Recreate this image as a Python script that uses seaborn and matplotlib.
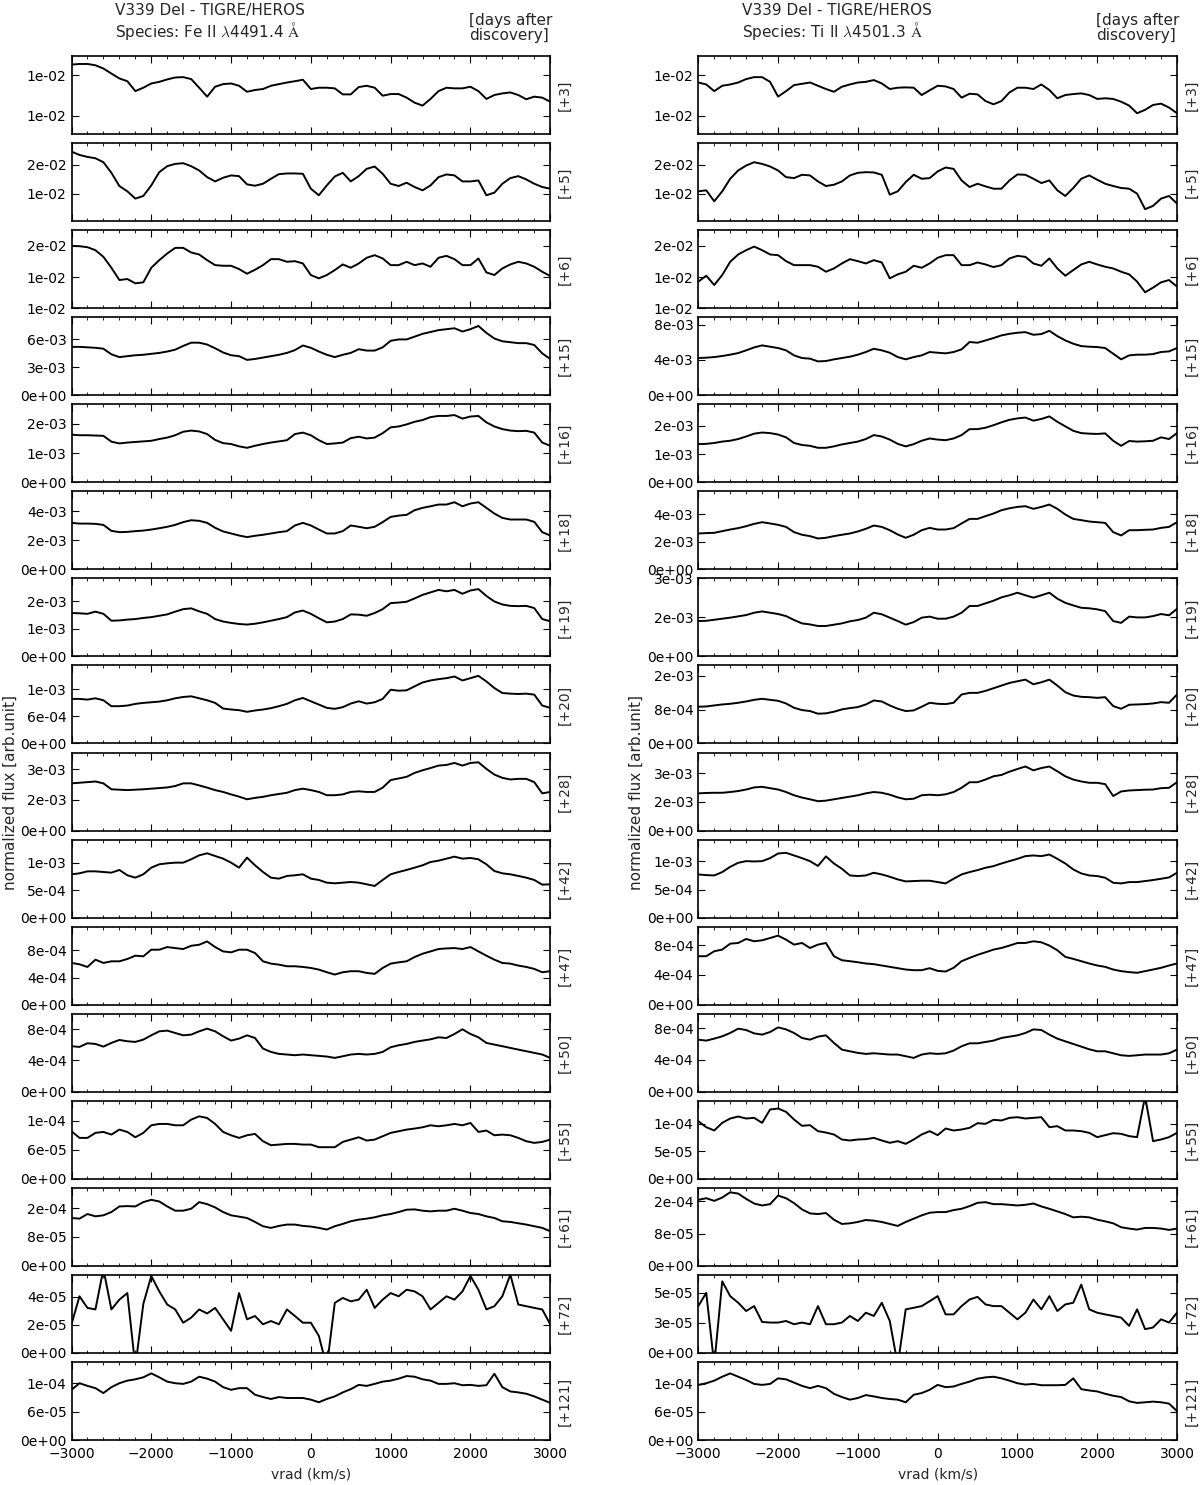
import numpy as np
import matplotlib
matplotlib.use('Agg')
import matplotlib.pyplot as plt
import seaborn as sns
from matplotlib.ticker import MultipleLocator, FormatStrFormatter, NullLocator

sns.set_style('ticks')
plt.rcParams['font.family'] = ['DejaVu Sans']
plt.rcParams['font.size'] = 10
plt.rcParams['mathtext.fontset'] = 'cm'
plt.rcParams['xtick.direction'] = 'in'
plt.rcParams['ytick.direction'] = 'in'
plt.rcParams['xtick.top'] = True
plt.rcParams['ytick.right'] = True
plt.rcParams['xtick.major.size'] = 5
plt.rcParams['ytick.major.size'] = 5
plt.rcParams['xtick.minor.size'] = 2.5
plt.rcParams['axes.linewidth'] = 1.2
plt.rcParams['axes.edgecolor'] = 'black'
plt.rcParams['xtick.color'] = 'black'
plt.rcParams['ytick.color'] = 'black'

# velocity grid (km/s), one sample every 100 km/s
vrad = np.arange(-3000, 3001, 100)

days = [3, 5, 6, 15, 16, 18, 19, 20, 28, 42, 47, 50, 55, 61, 72, 121]
# each series is given in units of `unit` below
unit = [1e-3, 1e-3, 1e-3, 1e-3, 1e-3, 1e-3, 1e-3, 1e-4,
        1e-3, 1e-4, 1e-4, 1e-4, 1e-5, 1e-5, 1e-5, 1e-5]

# ---- Fe II 4491.4 ----
fe_d03 = [13.15, 13.19, 13.19, 13.11, 12.91, 12.60, 12.30, 12.13, 11.52, 11.73,
          11.99, 12.09, 12.24, 12.36, 12.38, 12.26, 11.73, 11.18, 11.79, 11.95,
          11.99, 11.85, 11.48, 11.59, 11.65, 11.85, 11.95, 12.05, 12.13, 12.22,
          11.65, 11.73, 11.73, 11.69, 11.32, 11.32, 11.77, 11.85, 11.73, 11.24,
          11.34, 11.34, 11.12, 10.81, 10.63, 11.04, 11.52, 11.73, 11.69, 11.69,
          11.79, 11.52, 11.04, 11.28, 11.38, 11.44, 11.28, 11.02, 11.18, 11.12, 10.87]
fe_d05 = [22.22, 21.65, 21.31, 21.08, 20.40, 18.58, 16.31, 15.40, 14.15, 14.60,
          16.42, 18.69, 19.72, 20.11, 20.23, 19.72, 18.98, 17.84, 17.10, 17.73,
          18.13, 18.01, 16.59, 16.36, 16.70, 17.56, 18.35, 18.47, 18.47, 18.41,
          15.85, 14.72, 16.42, 17.95, 18.58, 17.10, 18.01, 19.26, 19.66, 18.41,
          16.70, 16.31, 16.88, 16.14, 15.57, 16.42, 17.84, 18.30, 18.13, 17.10,
          17.10, 17.27, 14.72, 15.17, 16.70, 17.67, 18.01, 17.44, 16.70, 16.14, 15.85]
fe_d06 = [20.00, 19.95, 19.79, 19.31, 18.24, 16.49, 14.52, 14.68, 13.99, 14.15,
          16.49, 17.71, 18.78, 19.68, 19.68, 18.94, 18.62, 17.71, 16.91, 16.81,
          16.81, 16.28, 15.53, 16.17, 16.91, 17.87, 17.87, 17.45, 17.55, 17.18,
          15.32, 14.79, 15.32, 16.12, 17.02, 16.49, 17.18, 18.09, 18.51, 17.98,
          16.91, 16.91, 17.45, 16.91, 17.18, 16.65, 18.09, 18.40, 17.87, 16.91,
          16.91, 17.98, 15.74, 15.32, 16.38, 17.02, 17.45, 17.18, 16.65, 15.85, 15.16]
fe_d15 = [5.2, 5.2, 5.15, 5.1, 5.0, 4.4, 4.1, 4.2, 4.3, 4.35,
          4.45, 4.55, 4.7, 4.9, 5.3, 5.65, 5.65, 5.45, 5.05, 4.6,
          4.3, 4.2, 3.8, 3.9, 4.05, 4.2, 4.35, 4.55, 4.85, 5.35,
          5.1, 4.7, 4.35, 4.1, 4.35, 4.55, 4.95, 4.8, 4.8, 5.15,
          5.85, 6.0, 6.0, 6.3, 6.6, 6.8, 7.0, 7.1, 7.2, 6.85,
          7.1, 7.45, 6.7, 6.1, 5.8, 5.7, 5.6, 5.6, 5.4, 4.5, 3.9]
fe_d16 = [1.63, 1.61, 1.61, 1.60, 1.59, 1.39, 1.33, 1.36, 1.38, 1.40,
          1.42, 1.48, 1.53, 1.61, 1.73, 1.77, 1.74, 1.65, 1.45, 1.34,
          1.31, 1.23, 1.18, 1.25, 1.31, 1.36, 1.40, 1.44, 1.65, 1.70,
          1.61, 1.44, 1.31, 1.33, 1.36, 1.51, 1.56, 1.50, 1.53, 1.68,
          1.88, 1.91, 1.98, 2.07, 2.13, 2.23, 2.27, 2.27, 2.30, 2.18,
          2.25, 2.27, 2.05, 1.91, 1.82, 1.77, 1.75, 1.76, 1.70, 1.36, 1.25]
fe_d18 = [3.20, 3.15, 3.15, 3.13, 3.06, 2.65, 2.56, 2.58, 2.63, 2.67,
          2.74, 2.83, 2.93, 3.06, 3.25, 3.38, 3.34, 3.20, 2.86, 2.61,
          2.47, 2.33, 2.22, 2.31, 2.38, 2.47, 2.56, 2.63, 3.02, 3.20,
          3.02, 2.74, 2.47, 2.47, 2.63, 3.02, 2.93, 2.83, 2.93, 3.25,
          3.61, 3.70, 3.75, 4.07, 4.23, 4.34, 4.46, 4.46, 4.62, 4.34,
          4.53, 4.62, 4.23, 3.84, 3.54, 3.43, 3.43, 3.43, 3.27, 2.56, 2.33]
fe_d19 = [1.58, 1.57, 1.55, 1.63, 1.55, 1.30, 1.31, 1.34, 1.36, 1.40,
          1.43, 1.48, 1.53, 1.63, 1.72, 1.75, 1.64, 1.55, 1.36, 1.27,
          1.22, 1.18, 1.16, 1.19, 1.24, 1.30, 1.36, 1.43, 1.60, 1.67,
          1.55, 1.39, 1.24, 1.27, 1.36, 1.53, 1.52, 1.48, 1.58, 1.72,
          1.94, 1.96, 1.99, 2.11, 2.24, 2.33, 2.42, 2.37, 2.42, 2.28,
          2.40, 2.45, 2.20, 2.00, 1.89, 1.84, 1.83, 1.84, 1.76, 1.36, 1.28]
fe_d20 = [9.88, 9.88, 9.73, 10.02, 9.58, 8.27, 8.27, 8.41, 8.78, 9.00,
          9.14, 9.29, 9.58, 10.02, 10.31, 10.46, 10.02, 9.58, 9.00, 7.75,
          7.53, 7.39, 7.02, 7.32, 7.53, 7.83, 8.27, 8.78, 9.58, 10.10,
          9.36, 8.63, 7.90, 7.68, 8.05, 8.85, 9.36, 8.85, 9.14, 9.88,
          11.92, 11.70, 11.78, 12.66, 13.53, 13.97, 14.26, 14.48, 14.85, 13.97,
          14.48, 15.00, 13.75, 12.29, 11.19, 11.05, 10.97, 11.05, 10.83, 8.41, 7.90]
fe_d28 = [2.31, 2.34, 2.37, 2.40, 2.31, 2.02, 2.00, 1.98, 2.00, 2.02,
          2.05, 2.08, 2.11, 2.18, 2.31, 2.31, 2.21, 2.10, 1.98, 1.89,
          1.77, 1.66, 1.53, 1.60, 1.65, 1.73, 1.79, 1.85, 1.98, 2.05,
          1.98, 1.89, 1.73, 1.73, 1.77, 1.89, 1.92, 1.89, 1.89, 2.10,
          2.47, 2.55, 2.63, 2.82, 2.95, 3.06, 3.18, 3.21, 3.31, 3.18,
          3.31, 3.34, 3.02, 2.74, 2.58, 2.50, 2.53, 2.53, 2.37, 1.82, 1.89]
fe_d42 = [7.88, 8.06, 8.42, 8.42, 8.30, 8.18, 8.67, 7.70, 7.27, 7.88,
          9.09, 9.70, 9.88, 10.00, 10.00, 10.61, 11.33, 11.70, 11.21, 10.73,
          10.00, 9.09, 10.91, 9.52, 8.30, 7.27, 7.09, 7.58, 7.70, 7.88,
          7.09, 6.85, 6.36, 6.24, 6.36, 6.48, 6.36, 6.06, 5.76, 6.85,
          7.88, 8.30, 8.67, 9.09, 9.52, 10.12, 10.36, 10.73, 11.09, 10.73,
          10.85, 10.61, 9.70, 8.48, 8.06, 7.88, 7.58, 7.27, 6.85, 6.00, 6.06]
fe_d47 = [6.15, 5.95, 5.56, 6.63, 6.15, 6.39, 6.39, 6.73, 7.22, 7.12,
          8.10, 8.10, 8.49, 8.34, 8.20, 8.68, 8.83, 9.32, 8.49, 7.85,
          7.71, 8.10, 8.10, 7.61, 6.39, 6.05, 5.90, 5.66, 5.66, 5.56,
          5.41, 5.17, 4.78, 4.44, 4.78, 4.93, 4.93, 4.68, 4.54, 5.41,
          6.05, 6.24, 6.39, 7.02, 7.51, 7.85, 8.20, 8.29, 8.34, 8.20,
          8.49, 7.85, 7.22, 6.63, 6.15, 6.05, 5.76, 5.56, 5.27, 4.78, 4.93]
fe_d50 = [5.81, 5.72, 6.19, 6.10, 5.76, 6.23, 6.61, 6.44, 6.36, 6.65,
          7.20, 7.71, 7.80, 7.50, 7.20, 7.29, 7.71, 8.05, 7.71, 7.08,
          6.53, 6.78, 7.20, 6.86, 5.51, 5.08, 4.83, 4.75, 4.66, 4.75,
          4.66, 4.58, 4.49, 4.32, 4.53, 4.75, 4.83, 4.75, 4.83, 5.08,
          5.68, 5.93, 6.10, 6.36, 6.53, 6.69, 6.95, 6.86, 7.37, 7.97,
          7.37, 6.95, 6.23, 6.02, 5.81, 5.59, 5.38, 5.17, 4.96, 4.75, 4.32]
fe_d55 = [9.81, 8.44, 8.44, 9.47, 9.67, 9.12, 10.15, 9.67, 8.57, 9.47,
          11.04, 11.32, 11.32, 11.04, 11.04, 12.21, 12.89, 12.55, 11.32, 9.67,
          8.98, 8.44, 8.98, 9.26, 7.75, 6.93, 7.06, 7.20, 7.20, 7.06,
          7.06, 6.52, 6.52, 6.52, 7.61, 8.09, 8.57, 7.89, 8.09, 8.78,
          9.47, 9.81, 10.15, 10.36, 10.63, 11.04, 10.84, 11.04, 11.32, 11.04,
          11.52, 9.67, 9.95, 8.98, 9.12, 8.98, 8.44, 7.75, 7.41, 7.61, 8.09]
fe_d61 = [13.25, 13.07, 14.35, 13.71, 13.99, 14.90, 16.45, 16.54, 16.45, 17.64,
          18.28, 17.82, 16.45, 15.27, 15.27, 15.81, 17.64, 17.09, 16.18, 14.90,
          13.99, 13.62, 13.25, 12.16, 10.97, 10.51, 11.06, 11.43, 11.43, 11.06,
          10.88, 10.51, 10.05, 10.97, 11.61, 12.34, 12.80, 13.07, 13.44, 13.99,
          14.35, 14.90, 15.54, 15.63, 15.27, 15.08, 15.27, 15.27, 15.81, 15.27,
          14.63, 14.35, 13.71, 13.25, 12.34, 12.16, 11.79, 11.43, 10.97, 10.51, 9.60]
fe_d72 = [2.05, 4.05, 3.22, 3.11, 6.0, 3.11, 3.81, 4.28, -1.0, 3.5,
          5.5, 4.40, 3.46, 3.11, 2.16, 2.52, 3.11, 2.82, 3.22, 2.40,
          1.58, 4.28, 2.40, 2.64, 2.05, 2.28, 2.05, 3.11, 2.64, 2.16,
          2.16, 1.22, -1.0, 3.58, 3.93, 3.69, 3.81, 4.52, 3.22, 3.81,
          4.28, 4.05, 4.52, 4.40, 4.05, 3.11, 3.58, 4.05, 3.81, 4.40,
          5.5, 4.52, 3.11, 3.34, 4.05, 5.6, 3.46, 3.34, 3.22, 3.11, 2.05]
fe_d121 = [10.61, 12.00, 11.44, 10.96, 9.92, 11.17, 12.00, 12.55, 12.83, 13.25,
           14.08, 13.25, 12.34, 12.00, 11.86, 12.34, 13.38, 12.97, 12.34, 11.17,
           10.61, 10.96, 10.96, 9.57, 9.08, 8.67, 9.08, 8.88, 8.88, 8.88,
           8.53, 7.98, 8.67, 9.22, 10.06, 10.75, 11.65, 11.44, 11.86, 12.34,
           12.55, 12.97, 13.52, 13.38, 12.83, 12.55, 11.86, 11.86, 12.00, 11.58,
           11.65, 11.44, 11.58, 14.0, 11.17, 10.26, 10.06, 9.78, 9.22, 8.53, 7.84]

# ---- Ti II 4501.3 ----
ti_d03 = [12.05, 11.93, 11.52, 11.85, 11.93, 12.05, 12.26, 12.38, 12.38, 12.09,
          11.18, 11.52, 11.89, 11.97, 12.05, 11.85, 11.65, 11.48, 11.79, 11.93,
          12.05, 12.09, 12.20, 11.99, 11.65, 11.73, 11.75, 11.73, 11.28, 11.57,
          11.85, 11.81, 11.65, 11.12, 11.36, 11.32, 10.91, 10.71, 10.91, 11.44,
          11.73, 11.73, 11.65, 11.93, 11.59, 11.08, 11.28, 11.34, 11.38, 11.28,
          11.04, 11.08, 11.04, 10.87, 10.63, 10.16, 10.37, 10.67, 10.75, 10.51, 10.16]
ti_d05 = [15.40, 15.57, 13.69, 15.40, 17.56, 18.98, 19.83, 20.40, 20.11, 19.66,
          18.98, 17.84, 17.67, 18.24, 18.13, 17.10, 16.31, 16.53, 17.10, 18.13,
          18.58, 18.69, 18.64, 18.24, 14.83, 15.40, 16.99, 18.24, 17.56, 17.67,
          18.81, 19.49, 19.26, 17.27, 16.14, 16.70, 16.25, 15.85, 15.85, 17.27,
          18.30, 18.24, 17.56, 16.82, 17.27, 15.57, 14.60, 15.97, 17.56, 18.13,
          17.39, 16.70, 16.31, 15.97, 15.85, 15.00, 12.33, 12.90, 14.15, 14.60, 13.30]
ti_d06 = [14.26, 15.21, 13.72, 15.32, 17.45, 18.62, 19.31, 19.89, 19.31, 18.62,
          18.51, 17.55, 16.91, 16.91, 16.91, 16.65, 15.85, 16.38, 17.18, 17.87,
          17.55, 17.18, 17.71, 17.34, 14.79, 15.43, 15.85, 16.81, 16.49, 17.18,
          18.09, 18.51, 18.51, 16.91, 16.91, 17.34, 17.02, 16.60, 16.91, 17.98,
          18.40, 18.24, 17.18, 16.81, 17.98, 16.38, 15.21, 16.12, 17.02, 17.45,
          17.02, 16.65, 16.38, 15.85, 15.43, 14.26, 12.55, 13.30, 14.15, 14.52, 13.46]
ti_d15 = [4.21, 4.25, 4.32, 4.44, 4.59, 4.77, 5.08, 5.41, 5.64, 5.49,
          5.34, 5.08, 4.51, 4.21, 4.14, 3.83, 3.87, 4.06, 4.21, 4.36,
          4.59, 4.89, 5.26, 5.08, 4.81, 4.32, 4.06, 4.32, 4.51, 4.89,
          4.81, 4.74, 4.89, 5.19, 6.02, 5.94, 6.20, 6.47, 6.77, 6.95,
          7.07, 7.14, 6.84, 6.92, 7.29, 6.69, 6.20, 5.83, 5.56, 5.49,
          5.45, 5.34, 4.70, 4.06, 4.51, 4.59, 4.59, 4.66, 4.89, 4.96, 5.34]
ti_d16 = [1.35, 1.36, 1.39, 1.44, 1.47, 1.53, 1.62, 1.72, 1.76, 1.74,
          1.69, 1.59, 1.39, 1.32, 1.29, 1.22, 1.22, 1.27, 1.34, 1.39,
          1.44, 1.53, 1.67, 1.62, 1.51, 1.36, 1.27, 1.35, 1.47, 1.55,
          1.51, 1.49, 1.55, 1.67, 1.88, 1.88, 1.93, 2.02, 2.12, 2.21,
          2.26, 2.29, 2.18, 2.24, 2.33, 2.14, 1.98, 1.82, 1.74, 1.72,
          1.71, 1.73, 1.47, 1.29, 1.46, 1.44, 1.45, 1.47, 1.59, 1.53, 1.74]
ti_d18 = [2.60, 2.63, 2.65, 2.77, 2.89, 2.99, 3.13, 3.30, 3.42, 3.33,
          3.23, 3.08, 2.70, 2.51, 2.41, 2.24, 2.29, 2.41, 2.51, 2.60,
          2.75, 2.94, 3.18, 3.08, 2.84, 2.53, 2.29, 2.51, 2.84, 3.01,
          2.89, 2.89, 2.99, 3.33, 3.66, 3.66, 3.86, 4.05, 4.29, 4.43,
          4.53, 4.58, 4.39, 4.53, 4.70, 4.39, 3.98, 3.66, 3.57, 3.47,
          3.42, 3.37, 2.70, 2.46, 2.84, 2.84, 2.87, 2.89, 3.01, 3.08, 3.42]
ti_d19 = [1.36, 1.37, 1.41, 1.45, 1.49, 1.54, 1.59, 1.68, 1.73, 1.68,
          1.63, 1.55, 1.40, 1.27, 1.23, 1.17, 1.17, 1.22, 1.27, 1.35,
          1.40, 1.49, 1.68, 1.62, 1.49, 1.36, 1.22, 1.32, 1.49, 1.53,
          1.45, 1.45, 1.53, 1.68, 1.94, 1.94, 2.04, 2.14, 2.27, 2.35,
          2.45, 2.35, 2.26, 2.35, 2.45, 2.22, 2.06, 1.96, 1.87, 1.85,
          1.81, 1.74, 1.36, 1.29, 1.53, 1.50, 1.50, 1.55, 1.63, 1.58, 1.83]
ti_d20 = [8.71, 8.78, 9.02, 9.25, 9.41, 9.65, 9.96, 10.35, 10.59, 10.35,
          10.12, 9.49, 8.47, 7.92, 7.69, 7.06, 7.14, 7.53, 8.08, 8.39,
          8.63, 9.25, 10.20, 9.96, 9.02, 8.24, 7.69, 7.84, 8.71, 9.65,
          9.41, 9.33, 9.65, 11.61, 12.00, 12.00, 12.47, 13.10, 13.73, 14.35,
          14.75, 15.14, 14.04, 14.51, 15.14, 13.73, 12.16, 11.37, 11.06, 10.98,
          10.82, 10.98, 8.86, 8.24, 9.18, 9.25, 9.33, 9.49, 9.80, 9.65, 11.61]
ti_d28 = [1.94, 1.96, 1.97, 1.97, 2.01, 2.06, 2.14, 2.25, 2.28, 2.21,
          2.14, 2.01, 1.84, 1.72, 1.63, 1.53, 1.56, 1.63, 1.70, 1.77,
          1.84, 1.94, 2.01, 1.97, 1.87, 1.73, 1.63, 1.66, 1.84, 1.87,
          1.84, 1.89, 2.01, 2.23, 2.52, 2.52, 2.66, 2.83, 2.90, 3.07,
          3.21, 3.34, 3.14, 3.26, 3.34, 3.09, 2.83, 2.66, 2.56, 2.49,
          2.49, 2.42, 1.80, 2.04, 2.09, 2.11, 2.13, 2.14, 2.21, 2.23, 2.52]
ti_d42 = [7.69, 7.57, 7.51, 8.11, 9.05, 9.76, 10.06, 10.00, 10.06, 10.59,
          11.42, 11.54, 11.07, 10.59, 10.06, 9.20, 10.90, 9.64, 8.70, 7.51,
          7.40, 7.51, 7.99, 7.69, 7.28, 6.80, 6.45, 6.51, 6.57, 6.57,
          6.33, 6.09, 6.92, 7.69, 8.11, 8.46, 8.88, 9.17, 9.64, 10.06,
          10.47, 10.95, 11.07, 10.95, 11.24, 10.47, 9.64, 8.58, 7.87, 7.51,
          7.40, 7.10, 6.21, 6.09, 6.33, 6.33, 6.51, 6.69, 6.92, 7.16, 7.99]
ti_d47 = [6.52, 6.52, 7.19, 7.41, 8.21, 8.30, 8.84, 8.53, 8.66, 8.97,
          9.29, 8.75, 8.08, 8.30, 7.63, 8.08, 8.30, 6.52, 5.98, 5.85,
          5.71, 5.54, 5.45, 5.27, 5.09, 4.91, 4.73, 4.64, 4.64, 4.91,
          4.55, 4.46, 4.96, 5.85, 6.29, 6.70, 7.05, 7.41, 7.63, 7.95,
          8.30, 8.30, 8.53, 8.39, 7.95, 7.32, 6.43, 6.16, 5.85, 5.54,
          5.27, 5.09, 4.73, 4.51, 4.38, 4.29, 4.51, 4.73, 4.96, 5.27, 5.54]
ti_d50 = [6.54, 6.42, 6.67, 6.96, 7.38, 7.92, 7.75, 7.33, 7.17, 7.50,
          8.08, 7.83, 7.38, 6.75, 6.54, 6.92, 7.08, 6.13, 5.29, 5.08,
          4.88, 4.75, 4.83, 4.75, 4.67, 4.67, 4.46, 4.25, 4.67, 4.83,
          4.75, 4.83, 5.17, 5.71, 6.08, 6.08, 6.25, 6.42, 6.75, 6.92,
          7.08, 7.38, 7.83, 7.75, 7.17, 6.67, 6.33, 6.00, 5.67, 5.33,
          5.08, 5.08, 4.83, 4.58, 4.50, 4.58, 4.67, 4.67, 4.67, 4.83, 5.29]
ti_d55 = [10.48, 9.39, 8.79, 10.18, 10.97, 11.33, 10.97, 11.09, 10.18, 12.61,
          12.79, 12.18, 10.79, 9.64, 9.76, 8.67, 8.42, 8.06, 7.15, 6.97,
          7.15, 7.21, 7.45, 6.97, 6.55, 6.85, 6.36, 7.15, 8.06, 8.67,
          7.94, 9.15, 8.79, 8.97, 9.27, 10.12, 10.00, 10.73, 10.61, 11.09,
          11.21, 10.97, 11.09, 11.21, 9.39, 9.58, 8.79, 8.79, 8.67, 8.36,
          7.58, 7.94, 8.30, 8.18, 7.76, 7.58, 15.0, 6.85, 7.15, 7.58, 8.36]
ti_d61 = [16.41, 16.82, 16.16, 16.98, 18.29, 17.97, 16.65, 15.50, 15.01, 15.34,
          17.47, 16.82, 15.59, 14.03, 13.04, 12.88, 13.13, 11.48, 10.42, 10.58,
          10.91, 11.40, 11.24, 10.91, 10.42, 9.93, 10.91, 11.73, 12.55, 13.21,
          13.37, 13.37, 13.86, 14.19, 14.85, 15.67, 15.83, 15.34, 15.34, 15.18,
          15.01, 15.18, 15.50, 14.77, 14.19, 13.54, 12.88, 12.06, 12.22, 12.06,
          11.48, 11.07, 10.58, 9.60, 9.27, 9.02, 9.43, 9.43, 9.27, 8.94, 9.27]
ti_d72 = [3.90, 5.00, -1.0, 5.96, 4.73, 4.18, 3.49, 3.90, 2.58, 2.53,
          2.53, 2.66, 2.39, 2.53, 2.39, 3.90, 2.39, 2.39, 2.53, 3.08,
          2.66, 3.35, 3.08, 4.18, 2.66, -1.0, 3.63, 3.76, 3.90, 4.31,
          4.73, 3.21, 3.21, 3.90, 4.45, 4.67, 4.04, 3.90, 3.90, 3.35,
          2.80, 3.35, 4.45, 3.63, 4.73, 3.49, 4.04, 4.18, 5.69, 3.63,
          3.35, 3.21, 3.08, 2.94, 2.25, 3.63, 1.98, 2.12, 2.80, 2.53, 3.35]
ti_d121 = [11.79, 12.14, 12.70, 13.54, 14.25, 13.54, 12.84, 12.00, 11.79, 12.00,
           13.19, 12.98, 12.28, 11.58, 11.09, 11.58, 11.09, 9.89, 9.19, 8.63,
           8.98, 9.61, 9.33, 8.98, 8.77, 8.63, 8.07, 9.68, 10.04, 10.74,
           11.79, 11.30, 11.44, 12.00, 12.49, 13.12, 13.40, 13.54, 13.19, 12.70,
           12.14, 11.86, 12.00, 11.72, 11.72, 11.72, 11.79, 13.19, 10.88, 10.60,
           10.39, 9.89, 9.47, 9.19, 8.28, 7.93, 8.07, 8.21, 8.07, 7.79, 6.18]

fe_series = [fe_d03, fe_d05, fe_d06, fe_d15, fe_d16, fe_d18, fe_d19, fe_d20,
             fe_d28, fe_d42, fe_d47, fe_d50, fe_d55, fe_d61, fe_d72, fe_d121]
ti_series = [ti_d03, ti_d05, ti_d06, ti_d15, ti_d16, ti_d18, ti_d19, ti_d20,
             ti_d28, ti_d42, ti_d47, ti_d50, ti_d55, ti_d61, ti_d72, ti_d121]

# axis ranges and tick positions per panel
fe_ylim = [(8.88e-3, 13.68e-3), (10.28e-3, 23.69e-3), (10.0e-3, 22.53e-3),
           (0, 8.39e-3), (0, 2.67e-3), (0, 5.37e-3), (0, 2.84e-3), (0, 1.73e-3),
           (0, 3.82e-3), (0, 1.42e-3), (0, 1.15e-3), (0, 9.96e-4),
           (0, 1.61e-4), (0, 2.16e-4), (0, 5.58e-5), (0, 1.65e-4)]
fe_ticks = [[0.0100, 0.0125], [0.015, 0.020], [0.010, 0.015, 0.020],
            [0, 3e-3, 6e-3], [0, 1e-3, 2e-3], [0, 2e-3, 4e-3], [0, 1e-3, 2e-3],
            [0, 6e-4, 1.2e-3], [0, 1.5e-3, 3e-3], [0, 5e-4, 1e-3],
            [0, 4e-4, 8e-4], [0, 4e-4, 8e-4], [0, 6e-5, 1.2e-4],
            [0, 8e-5, 1.6e-4], [0, 2e-5, 4e-5], [0, 6e-5, 1.2e-4]]
ti_ylim = [(8.88e-3, 13.68e-3), (10.28e-3, 23.69e-3), (10.0e-3, 22.53e-3),
           (0, 8.83e-3), (0, 2.76e-3), (0, 5.66e-3), (0, 3.0e-3), (0, 1.85e-3),
           (0, 4.07e-3), (0, 1.39e-3), (0, 1.05e-3), (0, 9.8e-4),
           (0, 1.42e-4), (0, 1.94e-4), (0, 6.5e-5), (0, 1.67e-4)]
ti_ticks = [[0.0100, 0.0125], [0.015, 0.020], [0.010, 0.015, 0.020],
            [0, 4e-3, 8e-3], [0, 1e-3, 2e-3], [0, 2e-3, 4e-3], [0, 1.5e-3, 3e-3],
            [0, 8e-4, 1.6e-3], [0, 1.5e-3, 3e-3], [0, 5e-4, 1e-3],
            [0, 4e-4, 8e-4], [0, 4e-4, 8e-4], [0, 5e-5, 1e-4],
            [0, 8e-5, 1.6e-4], [0, 2.5e-5, 5e-5], [0, 6e-5, 1.2e-4]]

W, H = 1200, 1485
fig, axes = plt.subplots(16, 2, figsize=(W / 100, H / 100), dpi=100,
                         gridspec_kw=dict(left=71.5 / W, right=1177 / W,
                                          top=1 - 56 / H, bottom=1 - 1440 / H,
                                          hspace=9 / 78, wspace=148 / 478.5))

columns = [(fe_series, fe_ylim, fe_ticks), (ti_series, ti_ylim, ti_ticks)]
for c, (series, ylims, ticks) in enumerate(columns):
    for r in range(16):
        ax = axes[r, c]
        y = np.array(series[r]) * unit[r]
        sns.lineplot(x=vrad, y=y, ax=ax, color='black', linewidth=1.4)
        ax.set_xlim(-3000, 3000)
        ax.set_ylim(*ylims[r])
        ax.set_yticks(ticks[r])
        ax.yaxis.set_major_formatter(FormatStrFormatter('%.0e'))
        ax.yaxis.set_minor_locator(NullLocator())
        ax.xaxis.set_major_locator(MultipleLocator(1000))
        ax.xaxis.set_minor_locator(MultipleLocator(200))
        ax.tick_params(which='both', direction='in', top=True, right=True)
        ax.set_ylabel('')
        if r < 15:
            ax.tick_params(labelbottom=False)
            ax.set_xlabel('')
        else:
            ax.tick_params(axis='x', pad=5)
            ax.set_xlabel('vrad (km/s)', labelpad=5)
        ax.text(1.03, 0.5, '[+%d]' % days[r], transform=ax.transAxes,
                rotation=90, ha='center', va='center')

# headers
fig.text(115 / W, 1 - 11 / H, 'V339 Del - TIGRE/HEROS', va='center', fontsize=11)
fig.text(115 / W, 1 - 31 / H, r'Species: Fe II $\lambda$4491.4 $\mathrm{\AA}$',
         va='center', fontsize=11)
fig.text(742 / W, 1 - 11 / H, 'V339 Del - TIGRE/HEROS', va='center', fontsize=11)
fig.text(742 / W, 1 - 31 / H, r'Species: Ti II $\lambda$4501.3 $\mathrm{\AA}$',
         va='center', fontsize=11)
fig.text(469 / W, 1 - 28 / H, '[days after\ndiscovery]', va='center',
         fontsize=11, linespacing=1.05)
fig.text(1096 / W, 1 - 28 / H, '[days after\ndiscovery]', va='center',
         fontsize=11, linespacing=1.05)

fig.text(10 / W, 1 - 792 / H, 'normalized flux [arb.unit]', rotation=90,
         ha='center', va='center', fontsize=11)
fig.text(636 / W, 1 - 792 / H, 'normalized flux [arb.unit]', rotation=90,
         ha='center', va='center', fontsize=11)

fig.savefig('out.png', dpi=100)
